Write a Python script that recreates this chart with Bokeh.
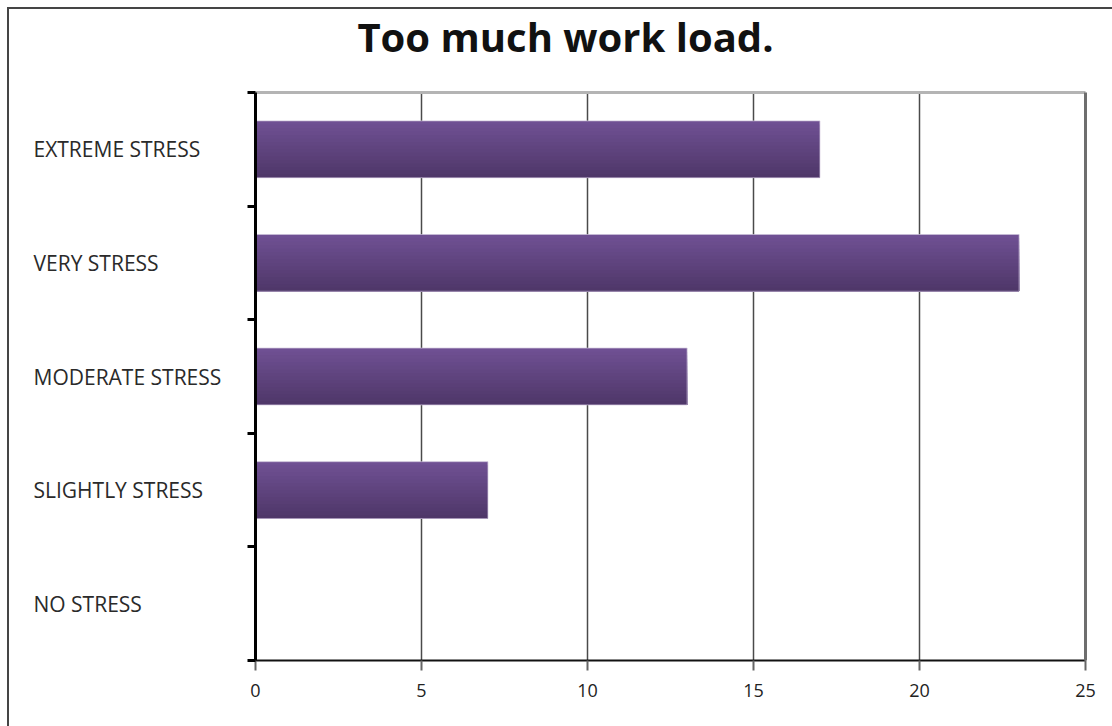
from bokeh.plotting import figure
from bokeh.layouts import row, column
from bokeh.models import (Range1d, FactorRange, LinearAxis, FixedTicker, ColumnDataSource)
from bokeh.core.properties import value
from bokeh.transform import dodge
from bokeh.embed import file_html
from bokeh.resources import INLINE

# ---- data ----
categories = ["NO STRESS", "SLIGHTLY STRESS", "MODERATE STRESS", "VERY STRESS", "EXTREME STRESS"]
counts = [0, 7, 13, 23, 17]
x_ticks = [0, 5, 10, 15, 20, 25]
title_text = "Too much work load."

FONT = "Open Sans"
TOTAL_W, TOTAL_H = 1103, 717
TITLE_H = 80
BODY_H = TOTAL_H - TITLE_H
TOP, BOTTOM = 3, 66
LABEL_W = 232

src = ColumnDataSource(dict(cat=categories, val=counts))
yr = FactorRange(factors=categories)

# ---- title strip ----
tf = figure(width=TOTAL_W, height=TITLE_H, output_backend="svg", toolbar_location=None,
            x_range=Range1d(0, TOTAL_W), y_range=Range1d(0, TITLE_H),
            min_border=0)
tf.axis.visible = False
tf.grid.visible = False
tf.outline_line_color = None
tf.border_fill_color = "white"
tf.text(x=[TOTAL_W / 2 + 4.5], y=[TITLE_H - 27], text=[title_text], text_align="center",
        text_baseline="alphabetic", text_font=value(FONT), text_font_style="bold",
        text_font_size="40px", text_color="#111111")

# ---- main chart ----
p = figure(width=TOTAL_W - LABEL_W, height=BODY_H, output_backend="svg", toolbar_location=None,
           x_range=Range1d(0, 25), y_range=yr,
           min_border_left=255 - 9 - LABEL_W, min_border_right=27,
           min_border_top=TOP, min_border_bottom=BOTTOM)
p.outline_line_color = None
p.background_fill_color = "white"
p.border_fill_color = "white"

p.yaxis.visible = False
p.ygrid.visible = False

xa = p.xaxis[0]
xa.ticker = FixedTicker(ticks=x_ticks)
xa.axis_line_color = "#111111"
xa.axis_line_width = 2
xa.major_tick_line_color = "#666666"
xa.major_tick_line_width = 2
xa.major_tick_out = 10
xa.major_tick_in = 0
xa.minor_tick_line_color = None
xa.major_label_text_font = FONT
xa.major_label_text_font_size = "18px"
xa.major_label_text_color = "#222222"
xa.major_label_standoff = 13

p.xgrid.ticker = FixedTicker(ticks=x_ticks[1:-1])
p.xgrid.grid_line_color = "#4a4a4a"
p.xgrid.grid_line_width = 1.5

# left axis with ticks at category boundaries (synthetic coordinates)
ya = LinearAxis(ticker=FixedTicker(ticks=list(range(len(categories) + 1))))
ya.axis_line_color = "black"
ya.axis_line_width = 3
ya.major_tick_line_color = "black"
ya.major_tick_line_width = 3
ya.major_tick_out = 8
ya.major_tick_in = 0
ya.minor_tick_line_color = None
ya.major_label_text_color = None
ya.major_label_standoff = 0
p.add_layout(ya, "left")

# top and right borders
ta = LinearAxis(ticker=FixedTicker(ticks=[]))
ta.axis_line_color = "#b4b4b4"
ta.axis_line_width = 3
ta.major_tick_line_color = None
ta.minor_tick_line_color = None
ta.major_label_text_color = None
ta.major_label_standoff = 0
p.add_layout(ta, "above")

ra = LinearAxis(ticker=FixedTicker(ticks=[]))
ra.axis_line_color = "#6e6e6e"
ra.axis_line_width = 3
ra.major_tick_line_color = None
ra.minor_tick_line_color = None
ra.major_label_text_color = None
p.add_layout(ra, "right")

# gradient bars: overlapping layers, each from its top edge to the bar bottom
N = 16
bar_h = 0.5
top_c = (0x6f, 0x50, 0x93)
bot_c = (0x4f, 0x37, 0x69)
band = bar_h / N
for k in range(N):
    t = k / (N - 1)
    c = tuple(int(round(top_c[i] + (bot_c[i] - top_c[i]) * t)) for i in range(3))
    col = "#%02x%02x%02x" % c
    h = bar_h - k * band
    off = -bar_h / 2 + h / 2
    p.hbar(y=dodge("cat", off, range=yr), left=0, right="val", height=h,
           source=src, fill_color=col, line_color=None)
p.hbar(y="cat", left=0, right="val", height=bar_h, source=src, fill_color=None,
       line_color="#cbbfd9", line_width=1, line_alpha=0.7)

# ---- category label panel (left aligned texts) ----
lf = figure(width=LABEL_W, height=BODY_H, output_backend="svg", toolbar_location=None,
            x_range=Range1d(0, LABEL_W), y_range=yr,
            min_border_left=0, min_border_right=0, min_border_top=TOP, min_border_bottom=BOTTOM)
lf.axis.visible = False
lf.grid.visible = False
lf.outline_line_color = None
lf.border_fill_color = "white"
lf.text(x=24, y="cat", text="cat", source=src, text_align="left", text_baseline="middle",
        text_font=value(FONT), text_font_size="21px", text_color="#2a2a2a")

layout = column(tf, row(lf, p), margin=(7, 0, 0, 7),
                styles={"border-left": "2px solid #454545", "border-top": "2px solid #454545"})

open("out.html", "w").write(file_html(layout, INLINE))
